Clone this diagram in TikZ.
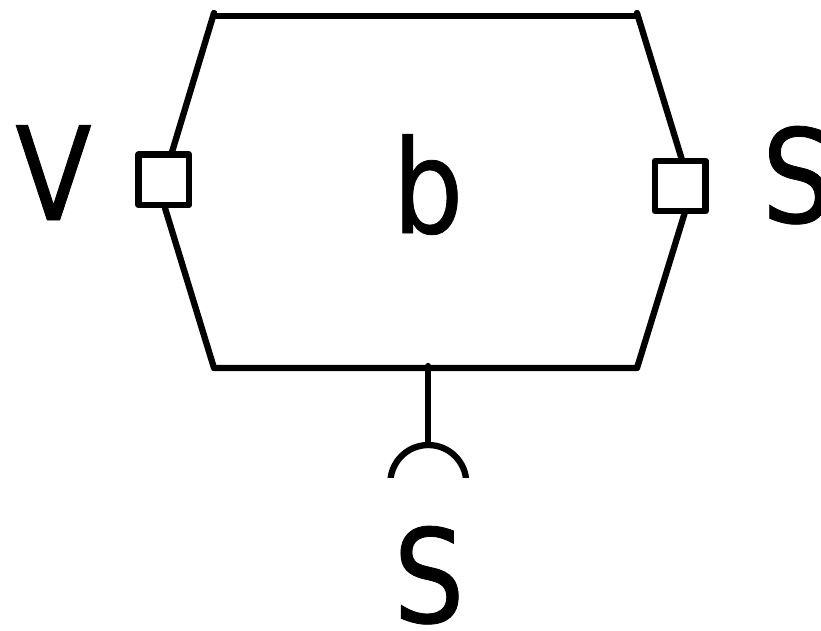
\documentclass[tikz,border=0pt]{standalone}
\usepackage{fontspec}
\setmainfont[FakeStretch=0.86,FakeBold=0.6]{DejaVu Sans}
\tikzset{
  wire/.style={line width=6.3pt,black,line cap=round,line join=round},
  port/.style={draw=black,fill=white,line width=6.3pt,line join=round,minimum size=50.5pt,inner sep=0pt,outer sep=0pt},
  lab/.style={font=\fontsize{130pt}{130pt}\selectfont,inner sep=0pt,outer sep=0pt,text=black,anchor=base,draw=none}
}
\begin{document}
\begin{tikzpicture}[x=1pt,y=-1pt]
\useasboundingbox (0,0) rectangle (821,630);
\coordinate (tl) at (214,13);
\coordinate (tla) at (216,16.3);
\coordinate (tr) at (637,13);
\coordinate (tra) at (635,16.3);
\coordinate (bl) at (214,368);
\coordinate (br) at (637,368);
\coordinate (bm) at (428.3,366);
\coordinate (sm) at (428.3,445);
\coordinate (pla) at (172,152);
\coordinate (plb) at (165,208);
\coordinate (pra) at (682,160);
\coordinate (prb) at (685,212);
\draw[wire] (pla) -- (tl);
\draw[wire] (tla) -- (tra);
\draw[wire] (tr) -- (pra);
\draw[wire] (prb) -- (br) -- (bl) -- (plb);
\draw[wire] (bm) -- (sm);
\node[port] (pl) at (163.7,179.7) {};
\node[port] (pr) at (680.3,186) {};
\begin{scope}
\clip (380,430) rectangle (480,477);
\draw[line width=6.3pt,black] (390.3,483) arc[start angle=180,end angle=360,radius=38];
\end{scope}
\node[lab] (v) at (53.5,220) {V};
\node[lab] (b) at (428,233) {b};
\node[lab] (s1) at (797.5,222.5) {S};
\node[lab] (s2) at (429,622.5) {S};
\end{tikzpicture}
\end{document}
